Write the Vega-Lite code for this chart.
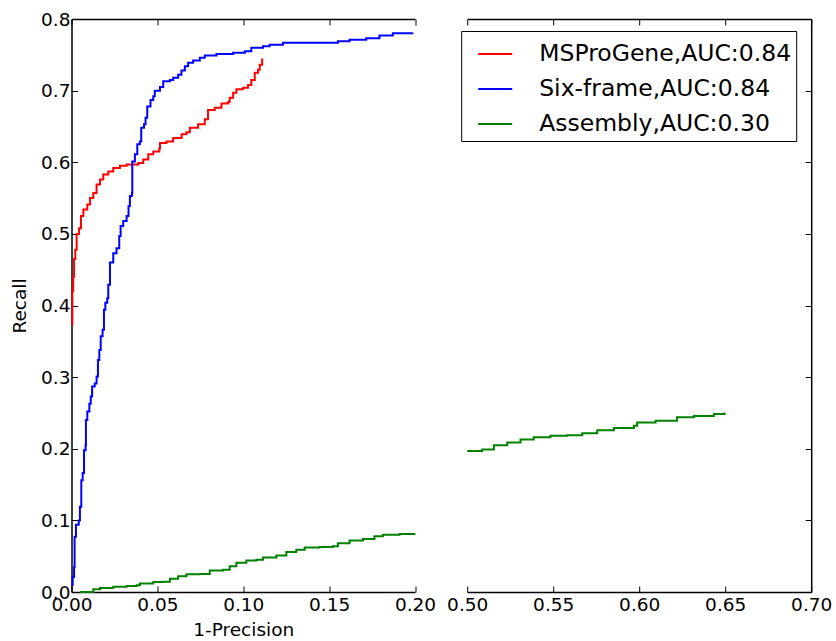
{
  "$schema": "https://vega.github.io/schema/vega-lite/v6.json",
  "padding": {"left": 9.5, "top": 10, "right": 5, "bottom": 5},
  "background": "white",
  "bounds": "flush",
  "spacing": 51.7,
  "resolve": {"scale": {"color": "independent"}},
  "config": {
    "font": "DejaVu Sans",
    "view": {"stroke": null},
    "axis": {
      "domainColor": "black", "domainWidth": 1.5,
      "tickColor": "black", "tickSize": -6, "tickWidth": 1,
      "labelColor": "black", "labelFontSize": 18.5, "labelFont": "DejaVu Sans",
      "titleColor": "black", "titleFontSize": 18.5, "titleFontWeight": "normal", "titleFont": "DejaVu Sans",
      "grid": false, "labelFlush": false, "labelOverlap": false, "labelBound": false, "labelPadding": 9
    }
  },
  "datasets": {
    "left": [
      {"series": "MSProGene,AUC:0.84", "x": 0.0003, "y": 0.373},
      {"series": "MSProGene,AUC:0.84", "x": 0.0005, "y": 0.42},
      {"series": "MSProGene,AUC:0.84", "x": 0.0010, "y": 0.44},
      {"series": "MSProGene,AUC:0.84", "x": 0.0015, "y": 0.465},
      {"series": "MSProGene,AUC:0.84", "x": 0.0022, "y": 0.478},
      {"series": "MSProGene,AUC:0.84", "x": 0.0030, "y": 0.50},
      {"series": "MSProGene,AUC:0.84", "x": 0.0044, "y": 0.508},
      {"series": "MSProGene,AUC:0.84", "x": 0.0055, "y": 0.525},
      {"series": "MSProGene,AUC:0.84", "x": 0.0069, "y": 0.534},
      {"series": "MSProGene,AUC:0.84", "x": 0.0092, "y": 0.541},
      {"series": "MSProGene,AUC:0.84", "x": 0.0108, "y": 0.55},
      {"series": "MSProGene,AUC:0.84", "x": 0.0127, "y": 0.557},
      {"series": "MSProGene,AUC:0.84", "x": 0.0146, "y": 0.569},
      {"series": "MSProGene,AUC:0.84", "x": 0.0166, "y": 0.576},
      {"series": "MSProGene,AUC:0.84", "x": 0.0185, "y": 0.583},
      {"series": "MSProGene,AUC:0.84", "x": 0.0214, "y": 0.587},
      {"series": "MSProGene,AUC:0.84", "x": 0.0243, "y": 0.592},
      {"series": "MSProGene,AUC:0.84", "x": 0.0282, "y": 0.595},
      {"series": "MSProGene,AUC:0.84", "x": 0.0321, "y": 0.597},
      {"series": "MSProGene,AUC:0.84", "x": 0.0360, "y": 0.597},
      {"series": "MSProGene,AUC:0.84", "x": 0.0389, "y": 0.599},
      {"series": "MSProGene,AUC:0.84", "x": 0.0418, "y": 0.604},
      {"series": "MSProGene,AUC:0.84", "x": 0.0447, "y": 0.611},
      {"series": "MSProGene,AUC:0.84", "x": 0.0476, "y": 0.615},
      {"series": "MSProGene,AUC:0.84", "x": 0.0511, "y": 0.619},
      {"series": "MSProGene,AUC:0.84", "x": 0.0515, "y": 0.627},
      {"series": "MSProGene,AUC:0.84", "x": 0.0553, "y": 0.629},
      {"series": "MSProGene,AUC:0.84", "x": 0.0592, "y": 0.634},
      {"series": "MSProGene,AUC:0.84", "x": 0.0641, "y": 0.639},
      {"series": "MSProGene,AUC:0.84", "x": 0.0669, "y": 0.642},
      {"series": "MSProGene,AUC:0.84", "x": 0.0689, "y": 0.648},
      {"series": "MSProGene,AUC:0.84", "x": 0.0737, "y": 0.653},
      {"series": "MSProGene,AUC:0.84", "x": 0.0776, "y": 0.66},
      {"series": "MSProGene,AUC:0.84", "x": 0.0795, "y": 0.673},
      {"series": "MSProGene,AUC:0.84", "x": 0.0834, "y": 0.676},
      {"series": "MSProGene,AUC:0.84", "x": 0.0873, "y": 0.682},
      {"series": "MSProGene,AUC:0.84", "x": 0.0912, "y": 0.684},
      {"series": "MSProGene,AUC:0.84", "x": 0.0921, "y": 0.69},
      {"series": "MSProGene,AUC:0.84", "x": 0.0941, "y": 0.697},
      {"series": "MSProGene,AUC:0.84", "x": 0.0960, "y": 0.702},
      {"series": "MSProGene,AUC:0.84", "x": 0.0999, "y": 0.704},
      {"series": "MSProGene,AUC:0.84", "x": 0.1028, "y": 0.708},
      {"series": "MSProGene,AUC:0.84", "x": 0.1047, "y": 0.715},
      {"series": "MSProGene,AUC:0.84", "x": 0.1067, "y": 0.725},
      {"series": "MSProGene,AUC:0.84", "x": 0.1086, "y": 0.729},
      {"series": "MSProGene,AUC:0.84", "x": 0.1096, "y": 0.736},
      {"series": "MSProGene,AUC:0.84", "x": 0.1110, "y": 0.745},

      {"series": "Six-frame,AUC:0.84", "x": 0.0000, "y": 0.01},
      {"series": "Six-frame,AUC:0.84", "x": 0.0007, "y": 0.021},
      {"series": "Six-frame,AUC:0.84", "x": 0.0015, "y": 0.035},
      {"series": "Six-frame,AUC:0.84", "x": 0.0018, "y": 0.077},
      {"series": "Six-frame,AUC:0.84", "x": 0.0026, "y": 0.094},
      {"series": "Six-frame,AUC:0.84", "x": 0.0042, "y": 0.10},
      {"series": "Six-frame,AUC:0.84", "x": 0.0049, "y": 0.119},
      {"series": "Six-frame,AUC:0.84", "x": 0.0057, "y": 0.156},
      {"series": "Six-frame,AUC:0.84", "x": 0.0065, "y": 0.166},
      {"series": "Six-frame,AUC:0.84", "x": 0.0073, "y": 0.198},
      {"series": "Six-frame,AUC:0.84", "x": 0.0082, "y": 0.205},
      {"series": "Six-frame,AUC:0.84", "x": 0.0084, "y": 0.24},
      {"series": "Six-frame,AUC:0.84", "x": 0.0092, "y": 0.252},
      {"series": "Six-frame,AUC:0.84", "x": 0.0104, "y": 0.263},
      {"series": "Six-frame,AUC:0.84", "x": 0.0112, "y": 0.273},
      {"series": "Six-frame,AUC:0.84", "x": 0.0120, "y": 0.287},
      {"series": "Six-frame,AUC:0.84", "x": 0.0135, "y": 0.291},
      {"series": "Six-frame,AUC:0.84", "x": 0.0146, "y": 0.301},
      {"series": "Six-frame,AUC:0.84", "x": 0.0154, "y": 0.324},
      {"series": "Six-frame,AUC:0.84", "x": 0.0162, "y": 0.338},
      {"series": "Six-frame,AUC:0.84", "x": 0.0170, "y": 0.357},
      {"series": "Six-frame,AUC:0.84", "x": 0.0181, "y": 0.366},
      {"series": "Six-frame,AUC:0.84", "x": 0.0189, "y": 0.394},
      {"series": "Six-frame,AUC:0.84", "x": 0.0197, "y": 0.404},
      {"series": "Six-frame,AUC:0.84", "x": 0.0208, "y": 0.41},
      {"series": "Six-frame,AUC:0.84", "x": 0.0214, "y": 0.429},
      {"series": "Six-frame,AUC:0.84", "x": 0.0224, "y": 0.46},
      {"series": "Six-frame,AUC:0.84", "x": 0.0243, "y": 0.473},
      {"series": "Six-frame,AUC:0.84", "x": 0.0262, "y": 0.48},
      {"series": "Six-frame,AUC:0.84", "x": 0.0278, "y": 0.497},
      {"series": "Six-frame,AUC:0.84", "x": 0.0286, "y": 0.511},
      {"series": "Six-frame,AUC:0.84", "x": 0.0301, "y": 0.518},
      {"series": "Six-frame,AUC:0.84", "x": 0.0321, "y": 0.525},
      {"series": "Six-frame,AUC:0.84", "x": 0.0332, "y": 0.539},
      {"series": "Six-frame,AUC:0.84", "x": 0.0340, "y": 0.553},
      {"series": "Six-frame,AUC:0.84", "x": 0.0352, "y": 0.557},
      {"series": "Six-frame,AUC:0.84", "x": 0.0354, "y": 0.601},
      {"series": "Six-frame,AUC:0.84", "x": 0.0369, "y": 0.611},
      {"series": "Six-frame,AUC:0.84", "x": 0.0383, "y": 0.625},
      {"series": "Six-frame,AUC:0.84", "x": 0.0398, "y": 0.629},
      {"series": "Six-frame,AUC:0.84", "x": 0.0406, "y": 0.648},
      {"series": "Six-frame,AUC:0.84", "x": 0.0422, "y": 0.653},
      {"series": "Six-frame,AUC:0.84", "x": 0.0431, "y": 0.662},
      {"series": "Six-frame,AUC:0.84", "x": 0.0441, "y": 0.678},
      {"series": "Six-frame,AUC:0.84", "x": 0.0460, "y": 0.687},
      {"series": "Six-frame,AUC:0.84", "x": 0.0476, "y": 0.692},
      {"series": "Six-frame,AUC:0.84", "x": 0.0485, "y": 0.70},
      {"series": "Six-frame,AUC:0.84", "x": 0.0515, "y": 0.705},
      {"series": "Six-frame,AUC:0.84", "x": 0.0534, "y": 0.713},
      {"series": "Six-frame,AUC:0.84", "x": 0.0573, "y": 0.715},
      {"series": "Six-frame,AUC:0.84", "x": 0.0592, "y": 0.718},
      {"series": "Six-frame,AUC:0.84", "x": 0.0621, "y": 0.722},
      {"series": "Six-frame,AUC:0.84", "x": 0.0640, "y": 0.728},
      {"series": "Six-frame,AUC:0.84", "x": 0.0660, "y": 0.734},
      {"series": "Six-frame,AUC:0.84", "x": 0.0679, "y": 0.739},
      {"series": "Six-frame,AUC:0.84", "x": 0.0708, "y": 0.742},
      {"series": "Six-frame,AUC:0.84", "x": 0.0747, "y": 0.746},
      {"series": "Six-frame,AUC:0.84", "x": 0.0776, "y": 0.749},
      {"series": "Six-frame,AUC:0.84", "x": 0.0844, "y": 0.751},
      {"series": "Six-frame,AUC:0.84", "x": 0.0941, "y": 0.753},
      {"series": "Six-frame,AUC:0.84", "x": 0.1009, "y": 0.755},
      {"series": "Six-frame,AUC:0.84", "x": 0.1047, "y": 0.76},
      {"series": "Six-frame,AUC:0.84", "x": 0.1115, "y": 0.762},
      {"series": "Six-frame,AUC:0.84", "x": 0.1154, "y": 0.764},
      {"series": "Six-frame,AUC:0.84", "x": 0.1231, "y": 0.767},
      {"series": "Six-frame,AUC:0.84", "x": 0.1328, "y": 0.767},
      {"series": "Six-frame,AUC:0.84", "x": 0.1551, "y": 0.769},
      {"series": "Six-frame,AUC:0.84", "x": 0.1619, "y": 0.771},
      {"series": "Six-frame,AUC:0.84", "x": 0.1716, "y": 0.773},
      {"series": "Six-frame,AUC:0.84", "x": 0.1793, "y": 0.777},
      {"series": "Six-frame,AUC:0.84", "x": 0.1871, "y": 0.78},
      {"series": "Six-frame,AUC:0.84", "x": 0.1985, "y": 0.781},

      {"series": "Assembly,AUC:0.30", "x": 0.0050, "y": 0.0},
      {"series": "Assembly,AUC:0.30", "x": 0.0127, "y": 0.004},
      {"series": "Assembly,AUC:0.30", "x": 0.0166, "y": 0.0056},
      {"series": "Assembly,AUC:0.30", "x": 0.0243, "y": 0.0074},
      {"series": "Assembly,AUC:0.30", "x": 0.0321, "y": 0.0084},
      {"series": "Assembly,AUC:0.30", "x": 0.0379, "y": 0.0093},
      {"series": "Assembly,AUC:0.30", "x": 0.0398, "y": 0.012},
      {"series": "Assembly,AUC:0.30", "x": 0.0476, "y": 0.014},
      {"series": "Assembly,AUC:0.30", "x": 0.0534, "y": 0.0144},
      {"series": "Assembly,AUC:0.30", "x": 0.0573, "y": 0.0186},
      {"series": "Assembly,AUC:0.30", "x": 0.0621, "y": 0.022},
      {"series": "Assembly,AUC:0.30", "x": 0.0669, "y": 0.0247},
      {"series": "Assembly,AUC:0.30", "x": 0.0747, "y": 0.025},
      {"series": "Assembly,AUC:0.30", "x": 0.0805, "y": 0.030},
      {"series": "Assembly,AUC:0.30", "x": 0.0883, "y": 0.031},
      {"series": "Assembly,AUC:0.30", "x": 0.0921, "y": 0.036},
      {"series": "Assembly,AUC:0.30", "x": 0.0960, "y": 0.041},
      {"series": "Assembly,AUC:0.30", "x": 0.1018, "y": 0.044},
      {"series": "Assembly,AUC:0.30", "x": 0.1077, "y": 0.045},
      {"series": "Assembly,AUC:0.30", "x": 0.1115, "y": 0.048},
      {"series": "Assembly,AUC:0.30", "x": 0.1193, "y": 0.051},
      {"series": "Assembly,AUC:0.30", "x": 0.1251, "y": 0.056},
      {"series": "Assembly,AUC:0.30", "x": 0.1309, "y": 0.059},
      {"series": "Assembly,AUC:0.30", "x": 0.1358, "y": 0.062},
      {"series": "Assembly,AUC:0.30", "x": 0.1445, "y": 0.063},
      {"series": "Assembly,AUC:0.30", "x": 0.1522, "y": 0.064},
      {"series": "Assembly,AUC:0.30", "x": 0.1551, "y": 0.068},
      {"series": "Assembly,AUC:0.30", "x": 0.1619, "y": 0.072},
      {"series": "Assembly,AUC:0.30", "x": 0.1697, "y": 0.074},
      {"series": "Assembly,AUC:0.30", "x": 0.1764, "y": 0.078},
      {"series": "Assembly,AUC:0.30", "x": 0.1813, "y": 0.080},
      {"series": "Assembly,AUC:0.30", "x": 0.1910, "y": 0.081},
      {"series": "Assembly,AUC:0.30", "x": 0.1997, "y": 0.082}
    ],
    "right": [
      {"series": "Assembly,AUC:0.30", "x": 0.5000, "y": 0.197},
      {"series": "Assembly,AUC:0.30", "x": 0.5087, "y": 0.199},
      {"series": "Assembly,AUC:0.30", "x": 0.5155, "y": 0.205},
      {"series": "Assembly,AUC:0.30", "x": 0.5233, "y": 0.2086},
      {"series": "Assembly,AUC:0.30", "x": 0.5310, "y": 0.213},
      {"series": "Assembly,AUC:0.30", "x": 0.5387, "y": 0.216},
      {"series": "Assembly,AUC:0.30", "x": 0.5484, "y": 0.218},
      {"series": "Assembly,AUC:0.30", "x": 0.5581, "y": 0.219},
      {"series": "Assembly,AUC:0.30", "x": 0.5669, "y": 0.2216},
      {"series": "Assembly,AUC:0.30", "x": 0.5756, "y": 0.226},
      {"series": "Assembly,AUC:0.30", "x": 0.5853, "y": 0.229},
      {"series": "Assembly,AUC:0.30", "x": 0.5969, "y": 0.232},
      {"series": "Assembly,AUC:0.30", "x": 0.5988, "y": 0.2365},
      {"series": "Assembly,AUC:0.30", "x": 0.6095, "y": 0.239},
      {"series": "Assembly,AUC:0.30", "x": 0.6220, "y": 0.244},
      {"series": "Assembly,AUC:0.30", "x": 0.6318, "y": 0.2458},
      {"series": "Assembly,AUC:0.30", "x": 0.6434, "y": 0.2486},
      {"series": "Assembly,AUC:0.30", "x": 0.6496, "y": 0.2505}
    ]
  },
  "hconcat": [
    {
      "width": 343.5,
      "height": 573,
      "resolve": {"axis": {"x": "independent"}},
      "layer": [
        {
          "data": {"name": "left"},
          "mark": {"type": "line", "strokeWidth": 2, "interpolate": "step-after"},
          "encoding": {
            "x": {"field": "x", "type": "quantitative",
                  "scale": {"domain": [0, 0.2], "nice": false, "zero": false},
                  "axis": {"orient": "bottom", "values": [0, 0.05, 0.1, 0.15, 0.2], "format": ".2f", "title": "1-Precision", "titlePadding": 7}},
            "y": {"field": "y", "type": "quantitative",
                  "scale": {"domain": [0, 0.8], "nice": false},
                  "axis": {"orient": "left", "values": [0, 0.1, 0.2, 0.3, 0.4, 0.5, 0.6, 0.7, 0.8], "format": ".1f", "title": "Recall", "titlePadding": 11.5, "labelPadding": 7.5}},
            "color": {"field": "series", "type": "nominal",
                      "scale": {"domain": ["MSProGene,AUC:0.84", "Six-frame,AUC:0.84", "Assembly,AUC:0.30"], "range": ["#ff0000", "#0000ff", "#008000"]},
                      "legend": null}
          }
        },
        {
          "mark": {"type": "rule", "color": "black", "strokeWidth": 1.5},
          "encoding": {
            "x": {"datum": 0.197, "type": "quantitative",
                  "axis": {"orient": "top", "values": [0, 0.05, 0.1, 0.15, 0.2], "labels": false, "title": null}},
            "x2": {"datum": 0.203},
            "y": {"datum": -0.012, "type": "quantitative"},
            "y2": {"datum": 0.012}
          }
        },
        {
          "mark": {"type": "rule", "color": "black", "strokeWidth": 1.5},
          "encoding": {
            "x": {"datum": 0.197, "type": "quantitative", "axis": null},
            "x2": {"datum": 0.203},
            "y": {"datum": 0.788, "type": "quantitative"},
            "y2": {"datum": 0.812}
          }
        }
      ]
    },
    {
      "width": 344,
      "height": 573,
      "resolve": {"axis": {"x": "independent"}},
      "layer": [
        {
          "data": {"name": "right"},
          "mark": {"type": "line", "strokeWidth": 2, "interpolate": "step-after"},
          "encoding": {
            "x": {"field": "x", "type": "quantitative",
                  "scale": {"domain": [0.5, 0.7], "nice": false, "zero": false},
                  "axis": {"orient": "bottom", "values": [0.5, 0.55, 0.6, 0.65, 0.7], "format": ".2f", "title": null}},
            "y": {"field": "y", "type": "quantitative",
                  "scale": {"domain": [0, 0.8], "nice": false},
                  "axis": {"orient": "right", "values": [0, 0.1, 0.2, 0.3, 0.4, 0.5, 0.6, 0.7, 0.8], "labels": false, "title": null}},
            "color": {"field": "series", "type": "nominal",
                      "scale": {"domain": ["MSProGene,AUC:0.84", "Six-frame,AUC:0.84", "Assembly,AUC:0.30"], "range": ["#ff0000", "#0000ff", "#008000"]},
                      "legend": {"title": null, "orient": "none", "legendX": -6, "legendY": 12,
                                 "strokeColor": "black", "padding": 5, "symbolOffset": 11, "cornerRadius": 0,
                                 "symbolType": "stroke", "symbolSize": 1156, "symbolStrokeWidth": 2,
                                 "labelFontSize": 23.5, "labelFont": "DejaVu Sans", "labelColor": "black",
                                 "labelOffset": 26, "rowPadding": 5, "labelLimit": 400}}
          }
        },
        {
          "mark": {"type": "rule", "color": "black", "strokeWidth": 1.5},
          "encoding": {
            "x": {"datum": 0.497, "type": "quantitative",
                  "axis": {"orient": "top", "values": [0.5, 0.55, 0.6, 0.65, 0.7], "labels": false, "title": null}},
            "x2": {"datum": 0.503},
            "y": {"datum": -0.012, "type": "quantitative"},
            "y2": {"datum": 0.012}
          }
        },
        {
          "mark": {"type": "rule", "color": "black", "strokeWidth": 1.5},
          "encoding": {
            "x": {"datum": 0.497, "type": "quantitative", "axis": null},
            "x2": {"datum": 0.503},
            "y": {"datum": 0.788, "type": "quantitative"},
            "y2": {"datum": 0.812}
          }
        }
      ]
    }
  ]
}
